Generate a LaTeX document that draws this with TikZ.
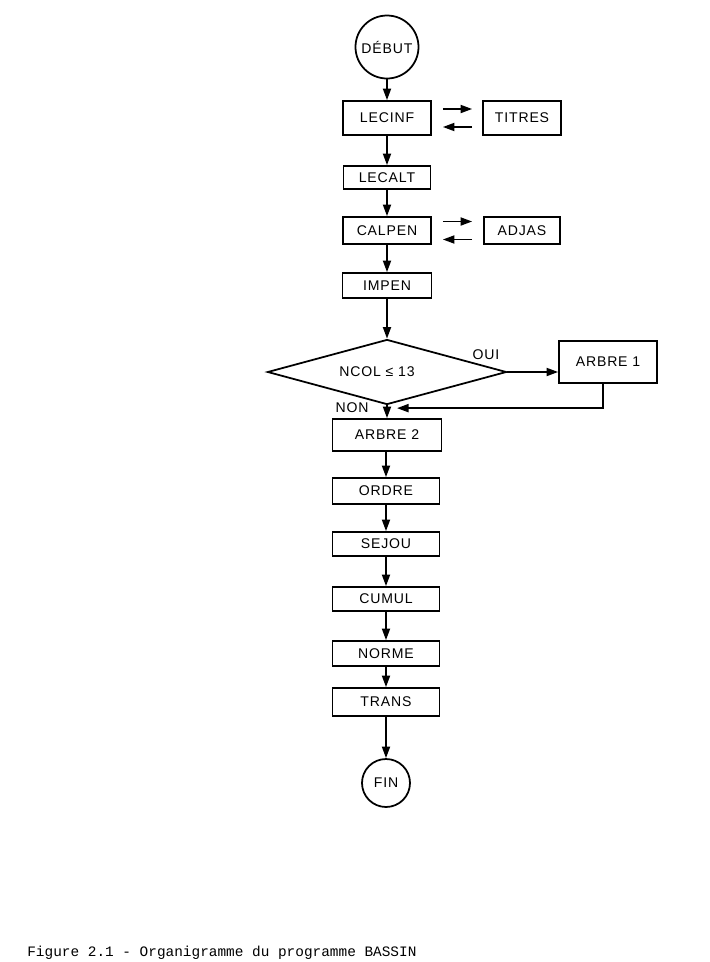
\documentclass[tikz,border=0pt]{standalone}
\usepackage{fontspec}
\usepackage{tikz}
\usetikzlibrary{shapes.geometric, arrows.meta, positioning, calc}
\newfontfamily\lettering[LetterSpace=6]{Liberation Sans}
\newfontfamily\typewriter{Liberation Mono}
\newcommand{\boxfont}{\lettering\fontsize{8}{9.6}\selectfont}

\begin{document}
\begin{tikzpicture}[
    x=0.2mm, y=-0.2mm,
    box/.style={rectangle, draw, line width=1pt, inner sep=0pt, font=\boxfont},
    term/.style={circle, draw, line width=1pt, inner sep=0pt, font=\boxfont},
    test/.style={diamond, draw, line width=1pt, inner sep=0pt, aspect=3.7, minimum width=47.8mm, minimum height=13mm, font=\boxfont},
    lbl/.style={inner sep=0pt, font=\boxfont},
    arr/.style={-{Triangle[length=2.3mm, width=1.6mm]}, line width=1pt},
  ]
  \useasboundingbox (0,0) rectangle (710,962);

  % Reading and penalties
  \node[term, minimum size=12.6mm] (debut) at (387,47) {DÉBUT};
  \node[box, minimum width=17.6mm, minimum height=6.8mm] (lecinf) at (387,118) {LECINF};
  \node[box, minimum width=15.6mm, minimum height=6.8mm] (titres) at (522,118) {TITRES};
  \node[box, minimum width=17.4mm, minimum height=4.6mm] (lecalt) at (387,177.5) {LECALT};
  \node[box, minimum width=17.6mm, minimum height=5.4mm] (calpen) at (387,230.5) {CALPEN};
  \node[box, minimum width=15.2mm, minimum height=5.4mm] (adjas) at (522,230.5) {ADJAS};
  \node[box, minimum width=17.8mm, minimum height=5mm] (impen) at (387,285.5) {IMPEN};

  % Test on number of columns
  \node[test] (ncol) at (387,372) {NCOL ≤ 13\kern4mm\null};
  \node[box, minimum width=19.6mm, minimum height=8.4mm] (arbre1) at (608,362) {ARBRE 1};
  \node[lbl] (oui) at (486,355) {OUI};
  \node[lbl] (non) at (352,408) {NON};
  \node[box, minimum width=21.8mm, minimum height=6.4mm] (arbre2) at (387,435) {ARBRE 2};

  % Tree processing and output
  \node[box, minimum width=21.4mm, minimum height=5.2mm] (ordre) at (386,491) {ORDRE};
  \node[box, minimum width=21.4mm, minimum height=4.8mm] (sejou) at (386,544) {SEJOU};
  \node[box, minimum width=21.4mm, minimum height=4.8mm] (cumul) at (386,599) {CUMUL};
  \node[box, minimum width=21.4mm, minimum height=5mm] (norme) at (386,653.5) {NORME};
  \node[box, minimum width=21.4mm, minimum height=5.6mm] (trans) at (386,702) {TRANS};
  \node[term, minimum size=9.6mm] (fin) at (386,783) {FIN};

  \node[anchor=base west, inner sep=0pt, font=\typewriter\fontsize{8.2}{10}\selectfont] (legende) at (27,956) {Figure 2.1 - Organigramme du programme BASSIN};

  % Main chain
  \draw[arr] (debut) -- (lecinf);
  \draw[arr] (lecinf) -- (lecalt);
  \draw[arr] (lecalt) -- (calpen);
  \draw[arr] (calpen) -- (impen);
  \draw[arr] (impen) -- (ncol.north);
  \draw[arr] (ncol.south) -- (arbre2.north);
  \draw[arr] (arbre2.south -| ordre.north) -- (ordre);
  \draw[arr] (ordre) -- (sejou);
  \draw[arr] (sejou) -- (cumul);
  \draw[arr] (cumul) -- (norme);
  \draw[arr] (norme) -- (trans);
  \draw[arr] (trans) -- (fin);

  % Subroutine calls
  \draw[arr, shorten <=2.2mm, shorten >=2mm] ([yshift=1.8mm]lecinf.east) -- ([yshift=1.8mm]titres.west);
  \draw[arr, shorten <=2mm, shorten >=2.2mm] ([yshift=-1.8mm]titres.west) -- ([yshift=-1.8mm]lecinf.east);
  \draw[arr, shorten <=2.2mm, shorten >=2.2mm] ([yshift=1.8mm]calpen.east) -- ([yshift=1.8mm]adjas.west);
  \draw[arr, shorten <=2.2mm, shorten >=2.2mm] ([yshift=-1.8mm]adjas.west) -- ([yshift=-1.8mm]calpen.east);

  % Branches
  \draw[arr] (ncol.east) -- (ncol.east -| arbre1.west);
  \draw[arr] ([xshift=-1mm]arbre1.south) |- ($(arbre2.north)+(10,-10)$);
\end{tikzpicture}
\end{document}
